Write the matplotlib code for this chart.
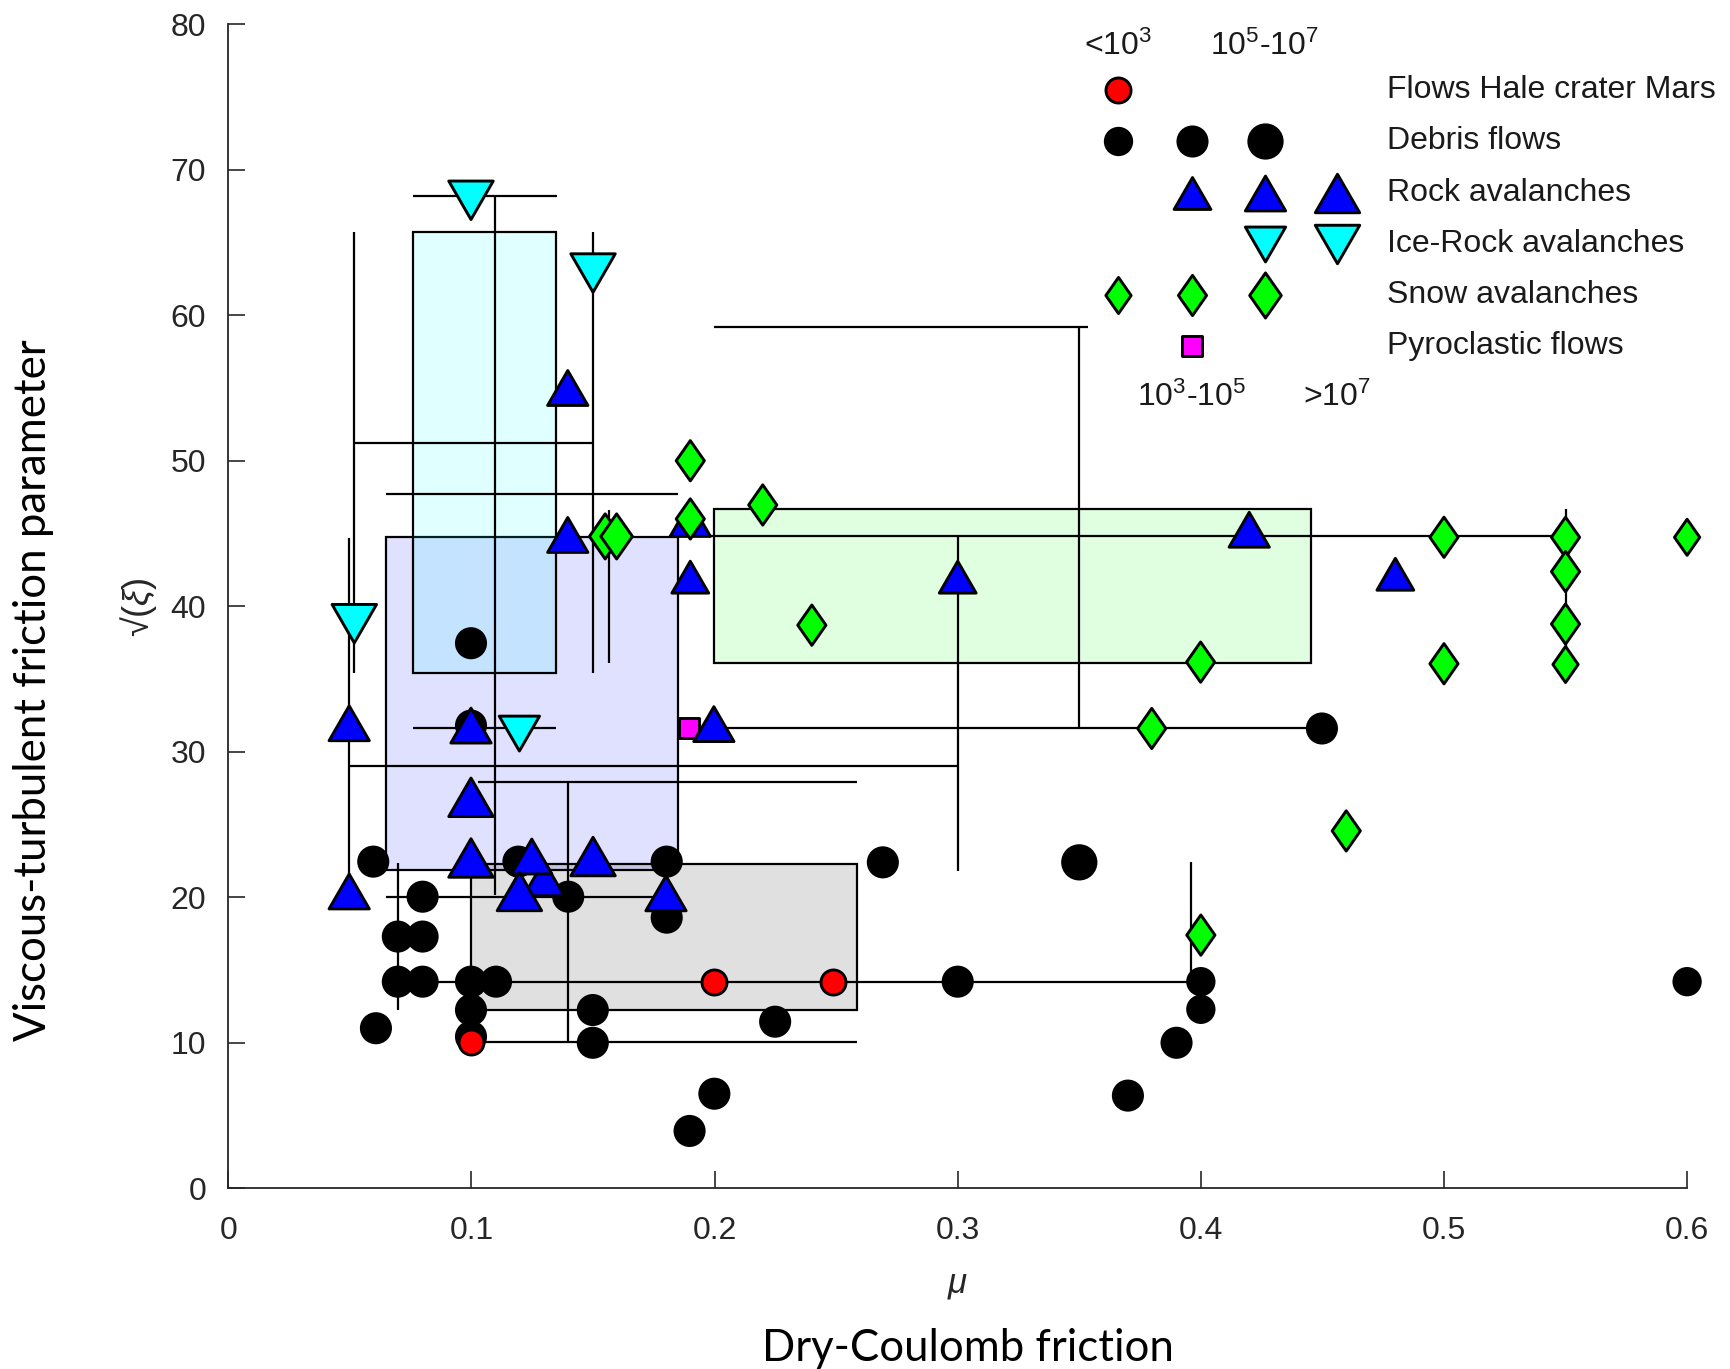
import matplotlib
matplotlib.use("Agg")
import matplotlib.pyplot as plt
from matplotlib.patches import Rectangle
from matplotlib.path import Path

plt.rcParams['font.family'] = ['Liberation Sans', 'DejaVu Sans']
plt.rcParams['mathtext.fontset'] = 'custom'
plt.rcParams['mathtext.rm'] = 'Liberation Sans'
plt.rcParams['mathtext.it'] = 'Liberation Sans:italic'

# volume classes: 0 = <1e3, 1 = 1e3-1e5, 2 = 1e5-1e7, 3 = >1e7
vol_labels = ['<10$^3$', '10$^3$-10$^5$', '10$^5$-10$^7$', '>10$^7$']

# Flows Hale crater (Mars)
mars_x = [0.0998, 0.1999, 0.2488]
mars_y = [10.08, 14.2, 14.2]

# Debris flows
debris_x = [0.0998, 0.0998, 0.0596, 0.0607, 0.0697, 0.0697, 0.0799, 0.0799,
            0.0799, 0.0998, 0.1101, 0.0998, 0.0998, 0.1193, 0.1398, 0.1499,
            0.1499, 0.1803, 0.1803, 0.2249, 0.1999, 0.1897, 0.2692, 0.30,
            0.35, 0.40, 0.40, 0.39, 0.37, 0.4498, 0.60]
debris_y = [37.46, 31.8, 22.45, 11.0, 17.3, 14.2, 20.04, 17.3,
            14.2, 14.2, 14.2, 12.25, 10.42, 22.45, 20.04, 12.25,
            10.0, 22.45, 18.6, 11.45, 6.5, 3.94, 22.4, 14.2,
            22.4, 14.2, 12.3, 10.0, 6.37, 31.6, 14.2]
debris_cls = [1, 1, 1, 1, 1, 1, 1, 1,
              1, 1, 1, 1, 1, 1, 1, 1,
              1, 1, 1, 1, 1, 1, 1, 1,
              2, 0, 0, 1, 1, 1, 0]

# Rock avalanches
rock_x = [0.1396, 0.1396, 0.19, 0.19, 0.30, 0.4199, 0.48, 0.0497, 0.0998,
          0.1997, 0.0998, 0.0497, 0.0998, 0.1298, 0.1248, 0.1197, 0.15, 0.18]
rock_y = [55.0, 44.9, 46.0, 42.0, 42.0, 45.26, 42.2, 31.96, 31.8,
          31.9, 26.87, 20.4, 22.7, 21.3, 22.8, 20.4, 22.8, 20.27]
rock_cls = [2, 2, 2, 1, 1, 2, 1, 2, 2,
            2, 3, 2, 3, 2, 2, 3, 3, 2]

# Ice-rock avalanches
ice_x = [0.0998, 0.150, 0.0518, 0.1197]
ice_y = [67.9, 62.9, 38.8, 31.25]
ice_cls = [3, 3, 3, 2]

# Snow avalanches
snow_x = [0.19, 0.155, 0.1597, 0.19, 0.2198, 0.240, 0.3798, 0.3999, 0.40,
          0.4598, 0.50, 0.50, 0.55, 0.55, 0.55, 0.55, 0.60]
snow_y = [50.0, 44.8, 44.8, 46.0, 46.96, 38.7, 31.6, 36.16, 17.4,
          24.56, 44.74, 36.05, 44.74, 42.38, 38.78, 36.0, 44.74]
snow_cls = [1, 2, 2, 1, 1, 1, 1, 1, 1,
            1, 1, 1, 1, 1, 1, 0, 0]

# Pyroclastic flows
pyro_x = [0.1896]
pyro_y = [31.6]

# parameter ranges (shaded boxes)
box_x0 = [0.0647, 0.0758, 0.0998, 0.1998]
box_x1 = [0.1848, 0.1348, 0.2587, 0.4452]
box_y0 = [21.88, 35.4, 12.25, 36.08]
box_y1 = [44.74, 65.7, 22.29, 46.69]
box_col = ['blue', 'cyan', 'black', 'lime']

# range lines
hl_y = [68.2, 51.2, 47.7, 59.2, 44.8, 31.6, 31.66, 29.05, 27.9, 20.04, 14.2, 10.05]
hl_x0 = [0.0758, 0.0518, 0.0647, 0.1998, 0.1848, 0.0758, 0.1997, 0.0497, 0.1028, 0.0647, 0.0697, 0.0998]
hl_x1 = [0.135, 0.150, 0.1848, 0.3536, 0.55, 0.1348, 0.45, 0.30, 0.2587, 0.18, 0.40, 0.2587]

vl_x = [0.1097, 0.0518, 0.150, 0.1566, 0.0497, 0.35, 0.30, 0.1396, 0.0697, 0.396, 0.55]
vl_y0 = [20.16, 35.4, 35.4, 36.1, 20.4, 31.66, 21.8, 10.05, 12.25, 14.2, 36.2]
vl_y1 = [68.2, 65.7, 65.7, 46.6, 44.7, 59.2, 44.8, 27.9, 22.35, 22.4, 46.7]

legend_labels = ['Flows Hale crater Mars', 'Debris flows', 'Rock avalanches',
                 'Ice-Rock avalanches', 'Snow avalanches', 'Pyroclastic flows']
legend_cls = [[0], [0, 1, 2], [1, 2, 3], [2, 3], [0, 1, 2], [1]]

# marker shapes
tri_up = Path([(0, 0.866), (-1, -0.866), (1, -0.866), (0, 0.866)],
              [Path.MOVETO, Path.LINETO, Path.LINETO, Path.CLOSEPOLY])
tri_dn = Path([(0, -0.866), (-1, 0.866), (1, 0.866), (0, -0.866)],
              [Path.MOVETO, Path.LINETO, Path.LINETO, Path.CLOSEPOLY])
diamond = Path([(0, 1), (0.7, 0), (0, -1), (-0.7, 0), (0, 1)],
               [Path.MOVETO, Path.LINETO, Path.LINETO, Path.LINETO, Path.CLOSEPOLY])

circ_size = {0: 19, 1: 21, 2: 24}
tri_size = {1: 26.5, 2: 29, 3: 32}
dia_size = {0: 26, 1: 29, 2: 32.5}
mars_size = 18
pyro_size = 14

# style for each legend row: marker, face colour, size table
styles = [
    ('o', '#ff0000', {0: mars_size}),
    ('o', 'black', circ_size),
    (tri_up, '#0000ff', tri_size),
    (tri_dn, '#00ffff', tri_size),
    (diamond, '#00ff00', dia_size),
    ('s', '#ff00ff', {1: pyro_size}),
]

fig = plt.figure(figsize=(17.3, 13.69), dpi=100)
ax = fig.add_axes([0.1320, 0.1320, 0.8432, 0.8503])

for x0, x1, y0, y1, c in zip(box_x0, box_x1, box_y0, box_y1, box_col):
    fc = matplotlib.colors.to_rgba(c, 0.12)
    ax.add_patch(Rectangle((x0, y0), x1 - x0, y1 - y0, facecolor=fc,
                           edgecolor='black', linewidth=1.6, zorder=1))

ax.hlines(hl_y, hl_x0, hl_x1, colors='black', linewidth=1.6, zorder=2)
ax.vlines(vl_x, vl_y0, vl_y1, colors='black', linewidth=1.6, zorder=2)

ew = 2.1
kw = dict(edgecolor='black', linewidths=ew, clip_on=False)
ax.scatter(debris_x, debris_y, s=[circ_size[c] ** 2 for c in debris_cls],
           marker='o', facecolor='black', zorder=3, **kw)
ax.scatter(mars_x, mars_y, s=mars_size ** 2, marker='o', facecolor='#ff0000',
           zorder=4, **kw)
ax.scatter(pyro_x, pyro_y, s=pyro_size ** 2, marker='s', facecolor='#ff00ff',
           zorder=4, **kw)
ax.scatter(rock_x, rock_y, s=[tri_size[c] ** 2 for c in rock_cls], marker=tri_up,
           facecolor='#0000ff', zorder=5, **kw)
ax.scatter(ice_x, ice_y, s=[tri_size[c] ** 2 for c in ice_cls], marker=tri_dn,
           facecolor='#00ffff', zorder=6, **kw)
ax.scatter(snow_x, snow_y, s=[dia_size[c] ** 2 for c in snow_cls], marker=diamond,
           facecolor='#00ff00', zorder=7, **kw)

# legend drawn by hand (axes fraction)
col_x = [0.6096, 0.6604, 0.7103, 0.7602]
row_y = [0.9431, 0.8995, 0.8550, 0.8114, 0.7678, 0.7233]
for (mk, fcol, sizes), label, classes, yy in zip(styles, legend_labels, legend_cls, row_y):
    for c in classes:
        ax.scatter([col_x[c]], [yy], s=sizes[c] ** 2, marker=mk, facecolor=fcol,
                   transform=ax.transAxes, zorder=8, **kw)
    ax.text(0.7943, yy, label, transform=ax.transAxes, fontsize=23,
            va='center', ha='left', color='#1a1a1a')
for c, yy in zip([0, 2, 1, 3], [0.981, 0.981, 0.6796, 0.6796]):
    ax.text(col_x[c], yy, vol_labels[c], transform=ax.transAxes,
            fontsize=23, ha='center', va='center', color='#1a1a1a')

ax.set_xlim(0, 0.6)
ax.set_ylim(0, 80)
ax.set_xticks([0, 0.1, 0.2, 0.3, 0.4, 0.5, 0.6])
ax.set_xticklabels(['0', '0.1', '0.2', '0.3', '0.4', '0.5', '0.6'])
ax.set_yticks(range(0, 81, 10))
ax.tick_params(direction='in', length=12, width=1.2, colors='#262626',
               labelsize=23, pad=16)
ax.tick_params(axis='x', pad=20)
ax.spines['top'].set_visible(False)
ax.spines['right'].set_visible(False)
for s in ['left', 'bottom']:
    ax.spines[s].set_color('#262626')
    ax.spines[s].set_linewidth(1.3)

fig.text(0.5536, 0.0614, r'$\mu$', fontsize=25, ha='center', va='center', color='#262626')
fig.text(0.0798, 0.5566, '√(' + r'$\xi$' + ')', fontsize=26, rotation=90,
         ha='center', va='center', color='#262626')
fig.text(0.5593, 0.0153, 'Dry-Coulomb friction', fontsize=31.5, family='Lato',
         ha='center', va='center', color='black')
fig.text(0.0191, 0.496, 'Viscous-turbulent friction parameter', fontsize=31.5,
         family='Lato', rotation=90, ha='center', va='center', color='black')

fig.savefig('out.png', dpi=100, facecolor='white')
